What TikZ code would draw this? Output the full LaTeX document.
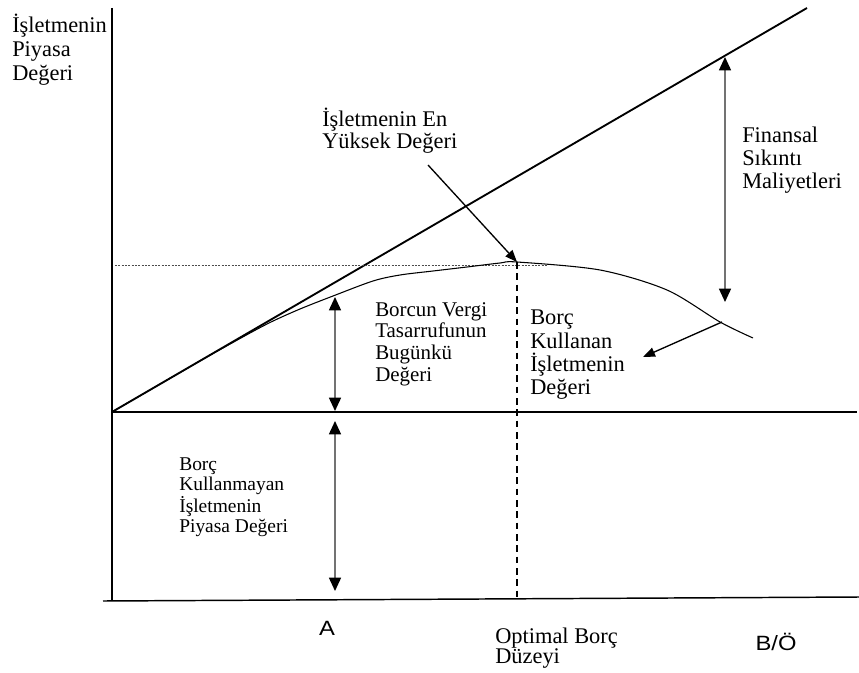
\documentclass[tikz,border=0pt]{standalone}
\usepackage{fontspec}
\setmainfont{Liberation Serif}
\newfontfamily\arialfont{Liberation Sans}
\usetikzlibrary{arrows.meta}
\begin{document}
\begin{tikzpicture}[x=0.75pt,y=-0.75pt,
  lbl/.style={inner sep=0pt, anchor=west, align=left, font=\fontsize{16.8}{17.3}\selectfont},
  sanslbl/.style={inner sep=0pt, xscale=1.15, font=\arialfont\fontsize{15.5}{18}\selectfont},
  axis/.style={line width=1.1pt, black},
  dimarrow/.style={draw=black!55, line width=1.1pt,
     {Triangle[length=10pt,width=9pt,color=black]}-{Triangle[length=10pt,width=9pt,color=black]}},
  ptr/.style={draw=black, line width=1pt, -{Triangle[length=9pt,width=7pt]}}
]
\useasboundingbox (0,0) rectangle (859,673);

% key points
\coordinate (O) at (112,412);
\coordinate (ytop) at (112,8);
\coordinate (ybot) at (112,601);
\coordinate (xl) at (103,601);
\coordinate (xr) at (859,597);
\coordinate (mr) at (857,412);
\coordinate (dtop) at (807,8);
\coordinate (peak) at (517,262);
\coordinate (dashbot) at (517,600);
\coordinate (dotl) at (115,265);
\coordinate (dotr) at (547,265);

% axes and lines
\draw[axis] (ytop) -- (ybot);
\draw[axis] (xl) -- (xr);
\draw[axis] (O) -- (mr);
\draw[line width=1.4pt] (O) -- (dtop);
\draw[black!70, line width=0.6pt, dash pattern=on 1.5pt off 1pt] (dotl) -- (dotr);
\draw[line width=1.2pt, dash pattern=on 5pt off 3.5pt] (peak) -- (dashbot);

% value curve
\draw[line width=0.8pt] plot[smooth, tension=0.5] coordinates {
  (112,412) (200,361) (240,338.5) (270,322.5) (300,309) (333,296) (373,281) (400,275)
  (433,271) (467,267) (500,263) (517,262) (600,270) (667,290) (720,322) (753,338)};

% double arrows
\coordinate (v1t) at (335,297); \coordinate (v1b) at (335,411);
\coordinate (v2t) at (335,421); \coordinate (v2b) at (335,591);
\coordinate (v3t) at (725,57);  \coordinate (v3b) at (725,302);
\draw[dimarrow] (v1t) -- (v1b);
\draw[dimarrow] (v2t) -- (v2b);
\draw[dimarrow] (v3t) -- (v3b);

% pointer arrows
\coordinate (p1s) at (428,165);
\coordinate (p2s) at (722,322);
\coordinate (p2e) at (643,357);
\draw[ptr] (p1s) -- (peak);
\draw[ptr] (p2s) -- (p2e);

% labels
\node[lbl, font=\fontsize{16.8}{18}\selectfont] (ylab) at (12,50) {İşletmenin\\Piyasa\\Değeri};
\node[lbl, font=\fontsize{16.8}{16.5}\selectfont] (peaklab) at (322,131) {İşletmenin En\\Yüksek Değeri};
\node[lbl] (finlab) at (742,160) {Finansal\\Sıkıntı\\Maliyetleri};
\node[lbl, font=\fontsize{15.7}{16.3}\selectfont] (verlab) at (375,344) {Borcun Vergi\\Tasarrufunun\\Bugünkü\\Değeri};
\node[lbl, font=\fontsize{16.8}{17.5}\selectfont] (kullab) at (530,355) {Borç\\Kullanan\\İşletmenin\\Değeri};
\node[lbl, font=\fontsize{14.6}{15}\selectfont] (kmlab) at (179,497) {Borç\\Kullanmayan\\İşletmenin\\Piyasa Değeri};
\node[sanslbl] (alab) at (327,628) {A};
\node[lbl, font=\fontsize{16.8}{15.5}\selectfont] (optlab) at (495,648) {Optimal Borç\\Düzeyi};
\node[sanslbl] (bolab) at (776,642) {B/Ö};
\end{tikzpicture}
\end{document}
